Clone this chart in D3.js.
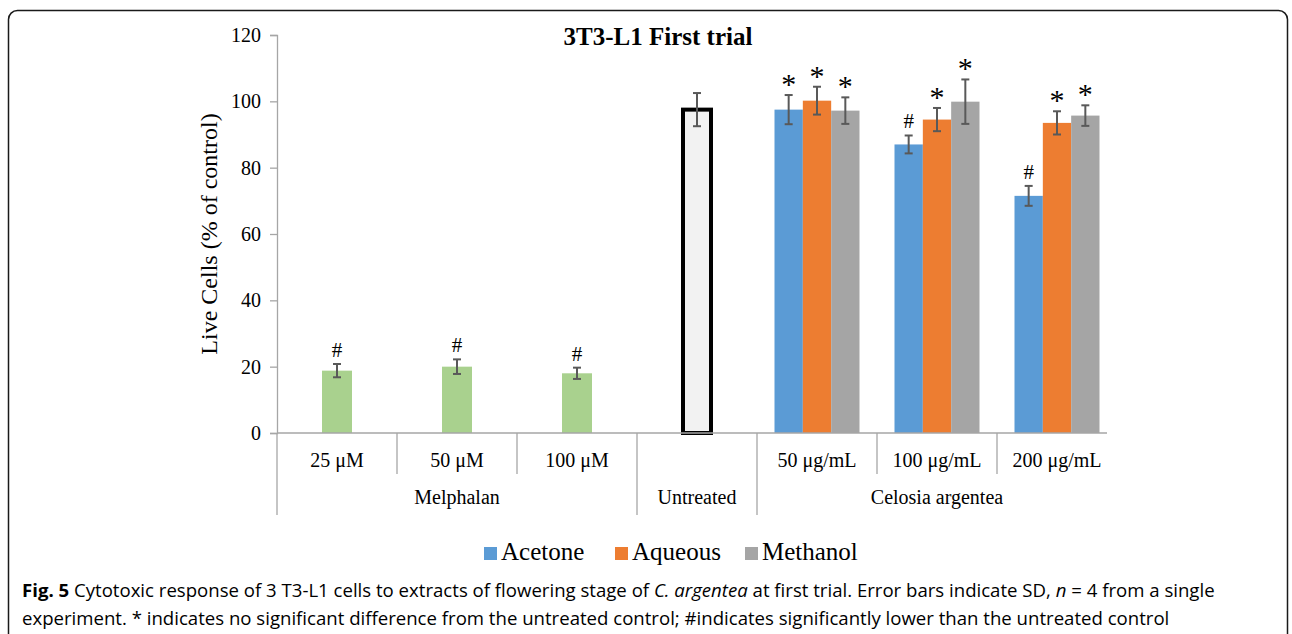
<!DOCTYPE html>
<html lang="en">
<head>
<meta charset="utf-8">
<title>3T3-L1 First trial</title>
<script src="https://cdn.jsdelivr.net/npm/d3@7"></script>
<style>
  body { margin: 0; background: #fff; }
  svg text { font-family: "Liberation Serif", "Times New Roman", serif; fill: #000; }
  .caption { font-family: "Open Sans", sans-serif; }
</style>
</head>
<body>
<script>
// ---- data ----
var categories = ["25 \u03bcM", "50 \u03bcM", "100 \u03bcM", "Untreated", "50 \u03bcg/mL", "100 \u03bcg/mL", "200 \u03bcg/mL"];
var groupNames = ["Melphalan", "Untreated", "Celosia argentea"];
var groupSpans = [3, 1, 3];

var melphalan = [18.8, 20, 18];
var melphalanSD = [2, 2.2, 1.7];
var melphalanMark = ["#", "#", "#"];

var untreated = 97.5;
var untreatedSD = 5;

var seriesNames = ["Acetone", "Aqueous", "Methanol"];
var seriesColors = ["#5b9bd5", "#ed7d31", "#a5a5a5"];
var acetone = [97.5, 87, 71.5];
var aqueous = [100.2, 94.5, 93.5];
var methanol = [97.2, 99.9, 95.7];
var acetoneSD = [4.4, 2.7, 3];
var aqueousSD = [4.2, 3.5, 3.5];
var methanolSD = [4, 6.7, 3.1];
var acetoneMark = ["*", "#", "#"];
var aqueousMark = ["*", "*", "*"];
var methanolMark = ["*", "*", "*"];

var yTicks = [0, 20, 40, 60, 80, 100, 120];

// ---- layout ----
var w = 1292, h = 634;
var plotL = 277, plotR = 1117, plotT = 35, base = 433;

var svg = d3.select("body").append("svg").attr("width", w).attr("height", h);

// frame
svg.append("rect")
  .attr("x", 8.5).attr("y", 10.5).attr("width", 1279).attr("height", 660)
  .attr("rx", 9).attr("fill", "none").attr("stroke", "#1a1a1a").attr("stroke-width", 1.5);

var x = d3.scaleBand().domain(categories).range([plotL, plotR]);
var y = d3.scaleLinear().domain([0, 120]).range([base, plotT]);
var sub = d3.scaleBand().domain(seriesNames).range([0, 85]);

// title
svg.append("text").attr("x", 658).attr("y", 45).attr("text-anchor", "middle")
  .attr("font-size", "25px").attr("font-weight", "bold").text("3T3-L1 First trial");

// y axis
var yAxis = d3.axisLeft(y).tickValues(yTicks).tickSize(7).tickPadding(9);
var gy = svg.append("g").attr("transform", "translate(" + plotL + ",0)").call(yAxis);
gy.select(".domain").attr("stroke", "#a6a6a6").attr("stroke-width", 1.3);
gy.selectAll(".tick line").attr("stroke", "#a6a6a6").attr("stroke-width", 1.3);
gy.selectAll(".tick text").attr("font-size", "20px")
  .attr("font-family", "Liberation Serif, serif").attr("fill", "#000");

svg.append("text")
  .attr("transform", "translate(217," + ((plotT + base) / 2) + ") rotate(-90)")
  .attr("text-anchor", "middle").attr("font-size", "24px")
  .text("Live Cells (% of control)");

// error bar helper
function errBar(cx, v, sd) {
  var g = svg.append("g").attr("stroke", "#595959").attr("stroke-width", 2);
  g.append("line").attr("x1", cx).attr("x2", cx).attr("y1", y(v + sd)).attr("y2", y(v - sd));
  g.append("line").attr("x1", cx - 4).attr("x2", cx + 4).attr("y1", y(v + sd)).attr("y2", y(v + sd));
  g.append("line").attr("x1", cx - 4).attr("x2", cx + 4).attr("y1", y(v - sd)).attr("y2", y(v - sd));
}
function mark(cx, v, sd, m) {
  var t = svg.append("text").attr("x", cx).attr("text-anchor", "middle").text(m);
  if (m === "*") {
    t.attr("y", y(v + sd) - 1).attr("font-size", "30px").attr("font-family", "Liberation Sans, sans-serif");
  } else {
    t.attr("y", y(v + sd) - 7).attr("font-size", "21px");
  }
}

// melphalan bars
var barW = 30;
melphalan.forEach(function(v, i) {
  var cx = x(categories[i]) + x.bandwidth() / 2;
  svg.append("rect").attr("x", cx - barW / 2).attr("y", y(v))
    .attr("width", barW).attr("height", base - y(v)).attr("fill", "#a9d18e");
  errBar(cx, v, melphalanSD[i]);
  mark(cx, v, melphalanSD[i], melphalanMark[i]);
});

// untreated bar
(function() {
  var cx = x(categories[3]) + x.bandwidth() / 2;
  svg.append("rect").attr("x", cx - 14).attr("y", y(untreated))
    .attr("width", 28).attr("height", base - y(untreated))
    .attr("fill", "#f2f2f2").attr("stroke", "#000").attr("stroke-width", 4);
  errBar(cx, untreated, untreatedSD);
})();

// celosia grouped bars
var series = [
  { vals: acetone, sd: acetoneSD, mk: acetoneMark },
  { vals: aqueous, sd: aqueousSD, mk: aqueousMark },
  { vals: methanol, sd: methanolSD, mk: methanolMark }
];
[4, 5, 6].forEach(function(ci, j) {
  var gx = x(categories[ci]) + x.bandwidth() / 2 - 42.5;
  series.forEach(function(s, k) {
    var bx = gx + sub(seriesNames[k]);
    var v = s.vals[j];
    svg.append("rect").attr("x", bx).attr("y", y(v))
      .attr("width", sub.bandwidth()).attr("height", base - y(v)).attr("fill", seriesColors[k]);
  });
  series.forEach(function(s, k) {
    var cx = gx + sub(seriesNames[k]) + sub.bandwidth() / 2;
    errBar(cx, s.vals[j], s.sd[j]);
    mark(cx, s.vals[j], s.sd[j], s.mk[j]);
  });
});

// x axis baseline
svg.append("line").attr("x1", plotL).attr("x2", plotR - 10).attr("y1", base).attr("y2", base)
  .attr("stroke", "#a6a6a6").attr("stroke-width", 1.5);

// category labels and dividers
categories.forEach(function(c, i) {
  var cx = x(c) + x.bandwidth() / 2;
  if (c !== "Untreated") {
    svg.append("text").attr("x", cx).attr("y", 467).attr("text-anchor", "middle")
      .attr("font-size", "20px").text(c);
  }
});
var gStart = 0;
groupNames.forEach(function(g, i) {
  var x0 = x(categories[gStart]);
  var x1 = gStart + groupSpans[i] < categories.length ? x(categories[gStart + groupSpans[i]]) : plotR;
  svg.append("line").attr("x1", x0).attr("x2", x0).attr("y1", base).attr("y2", 515)
    .attr("stroke", "#a6a6a6").attr("stroke-width", 1.3);
  for (var k = 1; k < groupSpans[i]; k++) {
    var xi = x(categories[gStart + k]);
    svg.append("line").attr("x1", xi).attr("x2", xi).attr("y1", base).attr("y2", 474)
      .attr("stroke", "#a6a6a6").attr("stroke-width", 1.3);
  }
  svg.append("text").attr("x", (x0 + x1) / 2).attr("y", 504).attr("text-anchor", "middle")
    .attr("font-size", "20px").text(g);
  gStart += groupSpans[i];
});

// legend
var legX = [484, 615, 745];
seriesNames.forEach(function(n, i) {
  svg.append("rect").attr("x", legX[i]).attr("y", 547).attr("width", 13).attr("height", 13)
    .attr("fill", seriesColors[i]);
  svg.append("text").attr("x", legX[i] + 17).attr("y", 560).attr("font-size", "25px").text(n);
});

// caption
var cap1 = svg.append("text").attr("class", "caption").attr("x", 22).attr("y", 597).attr("font-size", "18.6px");
cap1.append("tspan").attr("font-weight", "bold").text("Fig. 5");
cap1.append("tspan").text(" Cytotoxic response of 3 T3-L1 cells to extracts of flowering stage of ");
cap1.append("tspan").attr("font-style", "italic").text("C. argentea");
cap1.append("tspan").text(" at first trial. Error bars indicate SD, ");
cap1.append("tspan").attr("font-style", "italic").text("n");
cap1.append("tspan").text(" = 4 from a single");
svg.append("text").attr("class", "caption").attr("x", 22).attr("y", 625).attr("font-size", "18.6px")
  .text("experiment. * indicates no significant difference from the untreated control; #indicates significantly lower than the untreated control");
</script>
</body>
</html>
